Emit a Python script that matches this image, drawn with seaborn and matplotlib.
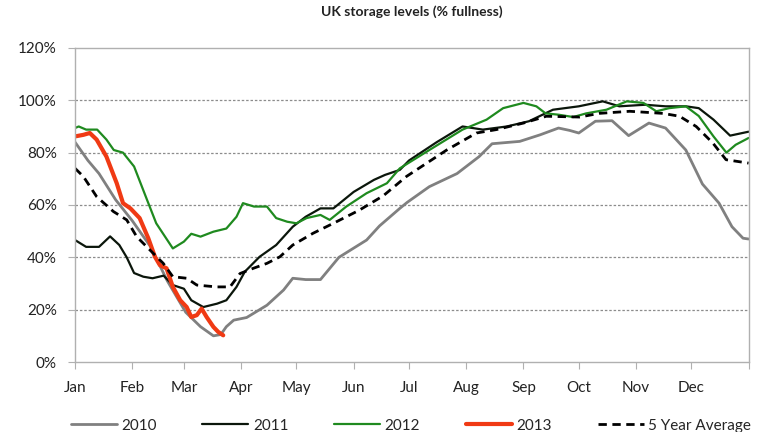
import numpy as np
import pandas as pd
import seaborn as sns
import matplotlib.pyplot as plt
from matplotlib.ticker import FuncFormatter

sns.set_style("white")
plt.rcParams['font.family'] = ['Lato', 'DejaVu Sans']

# day of year / % fullness
days_2010 = [0, 7, 13, 22, 31, 41, 50, 60, 68, 75, 79, 82, 86, 93, 104, 113, 118, 125, 133, 143,
             158, 165, 176, 180, 192, 207, 219, 226, 241, 252, 262, 268, 273, 282, 291, 300,
             311, 320, 331, 340, 349, 356, 362, 365]
vals_2010 = [84, 77, 72, 62, 54, 44, 31, 19, 13.5, 10, 10.5, 13.5, 16, 17, 21.7, 27.5, 32, 31.5, 31.5, 40,
             46.6, 52, 58.7, 61, 67, 72, 78.5, 83.4, 84.3, 86.8, 89.4, 88.5, 87.5, 92, 92.2, 86.5,
             91.3, 89.4, 81, 68, 60.7, 51.7, 47.3, 47]

days_2011 = [0, 6, 13, 19, 24, 28, 32, 37, 42, 48, 53, 59, 63, 69.5, 77, 82, 87.5, 92, 100, 109,
             118, 125, 133, 140, 151, 162, 168, 176, 181, 196, 210, 221, 234, 246, 259, 273,
             286, 295, 309, 320, 331, 338, 346, 355, 365]
vals_2011 = [46.6, 44, 44, 48, 44.7, 40, 34, 32.6, 32, 33, 29.4, 28, 23.6, 21, 22.3, 23.6, 28.7, 34.5, 40.2, 44.7,
             51.7, 55.5, 58.7, 58.7, 65, 69.6, 71.5, 73.4, 77, 84, 90, 88.8, 90, 92, 96.4, 97.7,
             99.6, 97.7, 98.3, 97.7, 97.7, 97, 92.6, 86.5, 88]

days_2012 = [0, 2, 6, 12, 17, 21, 26, 32, 39, 44, 50, 53, 59, 63, 68, 75, 82, 87.5, 91, 97,
             104, 109, 115, 120, 125.5, 133, 138, 147, 158, 169, 176, 192, 210, 223, 232, 243,
             250, 255, 262, 270, 277, 288, 299, 308, 315, 322, 331, 338, 346, 353, 358, 365]
vals_2012 = [89.4, 90, 88.8, 88.8, 85, 81, 80, 74.7, 62, 53, 46.6, 43.4, 46, 49, 47.9, 49.8, 51, 55.5, 60.7, 59.4,
             59.4, 55, 53.6, 53, 55, 56.2, 54.3, 59.4, 64.5, 68.3, 74, 81, 88.8, 92.6, 97, 99,
             97.7, 95, 94.5, 93.6, 95, 96.4, 99.6, 99, 95.8, 97, 97.7, 94, 86.2, 80, 83, 85.6]

days_2013 = [0, 4.5, 8, 11.7, 17, 22.6, 26, 30, 35, 39.7, 43.3, 46, 49.6, 53, 57, 60.5, 63, 66,
             68.6, 71.3, 75, 77.6, 80.3]
vals_2013 = [86.2, 86.8, 87.5, 85, 78.5, 68.3, 60.7, 58.7, 55, 47.3, 40.2, 37, 35.8, 28.7, 23.6, 21, 17.2, 17.9,
             20.4, 17.2, 13.4, 11.5, 10.2]

days_avg = [0, 4.5, 11.7, 20.8, 28, 33.4, 40.6, 47.8, 53, 60.5, 66, 76.7, 84, 89.4, 96.6, 104, 111, 118,
            129, 140, 154, 167, 179.6, 201.4, 217.5, 228.3, 243, 255.4, 273.5, 284, 300.6, 318.6,
            327.6, 336.6, 345.6, 352.8, 365]
vals_avg = [74, 70.9, 63.2, 57.5, 54.3, 47.9, 42.8, 37.7, 32.6, 32, 29.4, 28.7, 28.7, 33.8, 35.8, 37.7, 40.2, 44.7,
            49.2, 53, 58, 63.5, 70.9, 81, 87.5, 88.8, 91.3, 93.9, 93.6, 95, 95.8, 95,
            93.9, 90, 83.7, 77.3, 76]

month_starts = [0, 31, 59, 90, 120, 151, 181, 212, 243, 273, 304, 334]
month_labels = ['Jan', 'Feb', 'Mar', 'Apr', 'May', 'Jun', 'Jul', 'Aug', 'Sep', 'Oct', 'Nov', 'Dec']

series = [
    ('2010', days_2010, vals_2010, '#808080', 2.0, None),
    ('2011', days_2011, vals_2011, '#0b160b', 1.6, None),
    ('2012', days_2012, vals_2012, '#1f8a1f', 1.6, None),
    ('2013', days_2013, vals_2013, '#f03a14', 3.0, None),
    ('5 Year Average', days_avg, vals_avg, '#000000', 2.0, (3, 2)),
]

fig = plt.figure(figsize=(7.68, 4.32), dpi=100)
ax = fig.add_axes([0.0977, 0.162, 0.877, 0.727])

for name, d, v, col, lw, dash in series:
    df = pd.DataFrame({'day': d, 'pct': v})
    sns.lineplot(data=df, x='day', y='pct', ax=ax, color=col, linewidth=lw,
                 label=name, estimator=None, sort=False)
    if dash:
        ax.lines[-1].set_dashes(dash)

ax.set_xlim(0, 365)
ax.set_ylim(0, 120)
ax.set_yticks(np.arange(0, 121, 20))
ax.yaxis.set_major_formatter(FuncFormatter(lambda y, _: f'{int(y)}%'))
ax.set_xticks(month_starts + [365])
ax.set_xticklabels(month_labels + [''])
ax.set_xlabel('')
ax.set_ylabel('')

# dotted horizontal gridlines like the Excel original
for y in [20, 40, 60, 80, 100]:
    ax.axhline(y, color='#8c8c8c', linestyle=(0, (2, 1.5)), linewidth=0.9, zorder=0)

for sp in ax.spines.values():
    sp.set_color('#b0b0b0')
    sp.set_linewidth(1.0)
ax.tick_params(axis='both', which='major', length=5, color='#b0b0b0',
               labelsize=11, labelcolor='#222222', bottom=True, left=True)
ax.tick_params(axis='y', pad=8)
ax.tick_params(axis='x', pad=9)

ax.set_title('UK storage levels (% fullness)', fontsize=10, fontweight='bold',
             color='#222222', pad=23)

ax.get_legend().remove()
handles, labels = ax.get_legend_handles_labels()
fig.legend(handles, labels, loc='center', bbox_to_anchor=(0.535, 0.015), ncol=5, frameon=False,
           fontsize=11, handlelength=3.0, handletextpad=0.3, columnspacing=3.0,
           borderpad=0, borderaxespad=0)

fig.savefig('out.png', dpi=100)
